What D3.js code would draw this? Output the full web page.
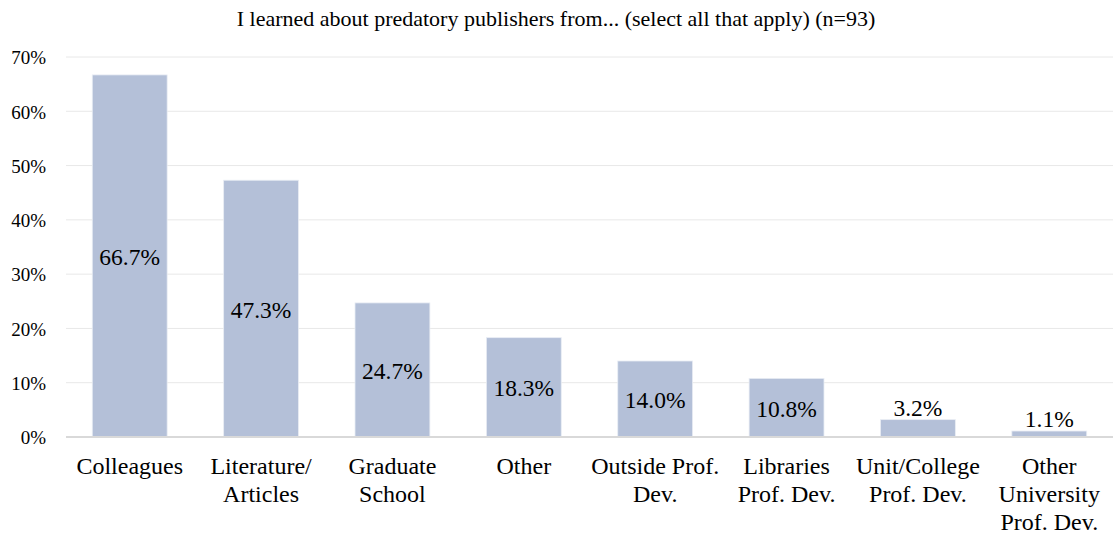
<!DOCTYPE html>
<html>
<head>
<meta charset="utf-8">
<script src="https://cdn.jsdelivr.net/npm/d3@7"></script>
<style>
  html, body { margin: 0; padding: 0; background: #fff; }
  svg { display: block; }
</style>
</head>
<body>
<svg id="chart" width="1113" height="536"></svg>
<script>
// Sources through which respondents learned about predatory publishers
const categories = [
  ["Colleagues"],
  ["Literature/", "Articles"],
  ["Graduate", "School"],
  ["Other"],
  ["Outside Prof.", "Dev."],
  ["Libraries", "Prof. Dev."],
  ["Unit/College", "Prof. Dev."],
  ["Other", "University", "Prof. Dev."]
];
const values = [66.7, 47.3, 24.7, 18.3, 14.0, 10.8, 3.2, 1.1];
const yTicks = [0, 10, 20, 30, 40, 50, 60, 70];
const title = "I learned about predatory publishers from... (select all that apply) (n=93)";

const FONT = "Liberation Serif";
const svg = d3.select("#chart");
const W = 1113, H = 536;
const margin = { left: 66, right: 0, top: 57, bottom: 99 };

const keys = categories.map((c, i) => i);
const x = d3.scaleBand()
  .domain(keys)
  .range([margin.left, W - margin.right])
  .paddingInner(0.43)
  .paddingOuter(0.2);

const y = d3.scaleLinear()
  .domain([0, 70])
  .range([H - margin.bottom, margin.top]);

// Title
svg.append("text")
  .attr("x", 556)
  .attr("y", 26)
  .attr("text-anchor", "middle")
  .attr("font-family", FONT)
  .attr("font-size", 22)
  .attr("fill", "#000")
  .text(title);

// Horizontal gridlines
svg.append("g")
  .selectAll("line")
  .data(yTicks.filter(t => t > 0))
  .join("line")
  .attr("x1", margin.left)
  .attr("x2", W - margin.right)
  .attr("y1", d => y(d))
  .attr("y2", d => y(d))
  .attr("stroke", "#e8e8e8")
  .attr("stroke-width", 1);

// Y axis labels
const yAxis = d3.axisLeft(y)
  .tickValues(yTicks)
  .tickFormat(d => d + "%")
  .tickSize(0)
  .tickPadding(0);
const yg = svg.append("g")
  .attr("transform", `translate(${margin.left - 20},0)`)
  .call(yAxis);
yg.attr("font-family", FONT).attr("font-size", 19);
yg.select(".domain").remove();
yg.selectAll("text")
  .attr("font-family", FONT)
  .attr("font-size", 19)
  .attr("fill", "#000")
  .attr("dy", "0.36em");

// Bars
svg.append("g")
  .selectAll("rect")
  .data(values)
  .join("rect")
  .attr("x", (d, i) => x(i))
  .attr("width", x.bandwidth())
  .attr("y", d => y(d))
  .attr("height", d => y(0) - y(d))
  .attr("fill", "#b4c0d8")
  .attr("stroke", "#e9edf4")
  .attr("stroke-width", 0.8);

// Baseline
svg.append("line")
  .attr("x1", margin.left)
  .attr("x2", W - margin.right)
  .attr("y1", y(0))
  .attr("y2", y(0))
  .attr("stroke", "#d9d9d9")
  .attr("stroke-width", 2);

// Value labels: centered inside tall bars, above the short ones
svg.append("g")
  .selectAll("text")
  .data(values)
  .join("text")
  .attr("x", (d, i) => x(i) + x.bandwidth() / 2)
  .attr("y", d => {
    const h = y(0) - y(d);
    return h > 30 ? (y(d) + y(0)) / 2 + 9 : y(d) - 4;
  })
  .attr("text-anchor", "middle")
  .attr("font-family", FONT)
  .attr("font-size", 23.5)
  .attr("fill", "#000")
  .text(d => d.toFixed(1) + "%");

// Category labels
const xg = svg.append("g");
categories.forEach((lines, i) => {
  const cx = x(i) + x.bandwidth() / 2;
  const t = xg.append("text")
    .attr("x", cx)
    .attr("y", y(0) + 37)
    .attr("text-anchor", "middle")
    .attr("font-family", FONT)
    .attr("font-size", 24)
    .attr("fill", "#000");
  lines.forEach((ln, j) => {
    t.append("tspan")
      .attr("x", cx)
      .attr("dy", j === 0 ? 0 : 28)
      .text(ln);
  });
});
</script>
</body>
</html>
